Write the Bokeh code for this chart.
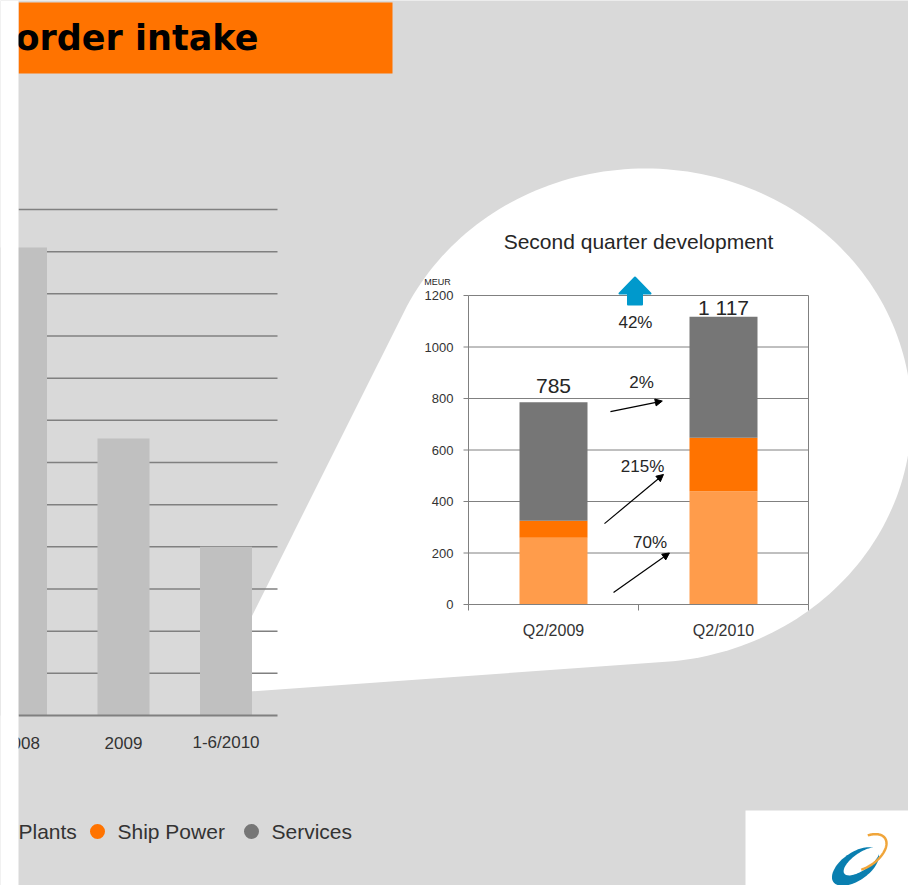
import numpy as np
from bokeh.plotting import figure
from bokeh.models import Range1d, ColumnDataSource, Arrow, NormalHead
from bokeh.core.properties import value
from bokeh.embed import file_html
from bokeh.resources import INLINE

# ---------------- data ----------------
overview_categories = ["2008", "2009", "1-6/2010"]
overview_values = [5550, 3285, 2000]
overview_gridlines = [500, 1000, 1500, 2000, 2500, 3000, 3500, 4000, 4500, 5000, 5500, 6000]

quarters = ["Q2/2009", "Q2/2010"]
power_plants = [259, 440]
ship_power = [66, 208]
services = [460, 469]
quarter_ticks = [0, 200, 400, 600, 800, 1000, 1200]
legend_labels = ["Plants", "Ship Power", "Services"]

# ---------------- styling / layout ----------------
BG = "#d9d9d9"
C_PP = "#ff9c4b"
C_SP = "#ff7300"
C_SV = "#767676"
C_BAR = "#c0c0c0"
C_GRID = "#808080"
TXT = "#262626"
FONT = value("Liberation Sans")

W, H = 908, 885
X0, X1, Y0, Y1 = 0, 908, 0, 885          # page-pixel extent of the canvas

p = figure(width=W, height=H, x_range=Range1d(X0, X1), y_range=Range1d(Y1, Y0),
           output_backend="svg", toolbar_location=None, tools="",
           x_axis_location=None, y_axis_location=None, min_border=0)
p.grid.visible = False
p.outline_line_color = None
p.background_fill_color = BG
p.border_fill_color = BG


def xr(origin, ppu):
    return Range1d((X0 - origin) / ppu, (X1 - origin) / ppu)


def yr(origin, ppu):
    return Range1d((origin - Y1) / ppu, (origin - Y0) / ppu)


# overview chart scale (left) and quarter chart scale (inset)
OV_X0, OV_XP, OV_Y0, OV_YP = 20.5, 102.5, 715, 42.17 / 500
Q_X0, Q_XP, Q_Y0, Q_YP = 468, 170, 604, 309 / 1200
p.extra_x_ranges = {"ov": xr(OV_X0, OV_XP), "q": xr(Q_X0, Q_XP)}
p.extra_y_ranges = {"ov": yr(OV_Y0, OV_YP), "q": yr(Q_Y0, Q_YP)}

# ---------------- white callout bubble ----------------
cx, cy, a, b = 645, 415, 266, 247
th = np.radians(np.linspace(204.9, 445.6, 160))
bx = list(cx + a * np.cos(th))
by = list(cy + b * np.sin(th))
bub_x = [240] + bx + [240]
bub_y = [311 + (403.7 - 240) * 2] + by + [661.3 + (665.4 - 240) * 0.0713]
p.patch(bub_x, bub_y, fill_color="white", line_color=None)

# ---------------- title box ----------------
p.quad(left=[18], right=[392], top=[2], bottom=[73], fill_color="#ff7300", line_color=None)
p.text(x=[15], y=[37], text=["order intake"], text_font=value("DejaVu Sans"),
       text_font_style="bold", text_font_size="35px", text_baseline="alphabetic",
       text_align="left", text_color="black")

# ---------------- overview chart ----------------
ov = dict(x_range_name="ov", y_range_name="ov")
gx0, gx1 = (18 - OV_X0) / OV_XP, (277 - OV_X0) / OV_XP
p.segment(x0=[gx0] * len(overview_gridlines), x1=[gx1] * len(overview_gridlines),
          y0=overview_gridlines, y1=overview_gridlines, line_color=C_GRID, line_width=1.5, **ov)
xs = list(range(len(overview_categories)))
p.vbar(x=xs, top=overview_values, bottom=0, width=52 / OV_XP, fill_color=C_BAR, line_color=None, **ov)
p.segment(x0=[gx0], x1=[gx1], y0=[0], y1=[0], line_color=C_GRID, line_width=2, **ov)
p.text(x=xs, y=[0] * len(xs), text=overview_categories, y_offset=27, text_align="center",
       text_baseline="middle", text_font=FONT, text_font_size="17px", text_color="#333333", **ov)

# ---------------- quarter chart (inset) ----------------
q = dict(x_range_name="q", y_range_name="q")
p.text(x=[1.0], y=[(Q_Y0 - 241) / Q_YP], text=["Second quarter development"], text_align="center",
       text_baseline="middle", text_font=FONT, text_font_size="21px", text_color=TXT, **q)
p.text(x=[0], y=[1200], text=["MEUR"], x_offset=-31, y_offset=-14, text_align="center",
       text_baseline="middle", text_font=FONT, text_font_size="9px", text_color=TXT, **q)

# gridlines
p.segment(x0=[0] * len(quarter_ticks), x1=[2] * len(quarter_ticks), y0=quarter_ticks, y1=quarter_ticks,
          line_color=C_GRID, line_width=1, **q)
# axes + frame
tick_dx = 5 / Q_XP
tick_dy = 6 / Q_YP
p.segment(x0=[0, 2], x1=[0, 2], y0=[0, 0], y1=[1200, 1200], line_color=C_GRID, line_width=1, **q)
p.segment(x0=[-tick_dx] * len(quarter_ticks), x1=[0] * len(quarter_ticks), y0=quarter_ticks,
          y1=quarter_ticks, line_color=C_GRID, line_width=1, **q)
p.segment(x0=[0, 1, 2], x1=[0, 1, 2], y0=[0, 0, 0], y1=[-tick_dy] * 3, line_color=C_GRID, line_width=1, **q)

# stacked bars
qx = [0.5, 1.5]
top_pp = power_plants
top_sp = [pp + sp for pp, sp in zip(power_plants, ship_power)]
top_sv = [t + s for t, s in zip(top_sp, services)]
p.vbar(x=qx, bottom=[0, 0], top=top_pp, width=0.4, fill_color=C_PP, line_color=None, **q)
p.vbar(x=qx, bottom=top_pp, top=top_sp, width=0.4, fill_color=C_SP, line_color=None, **q)
p.vbar(x=qx, bottom=top_sp, top=top_sv, width=0.4, fill_color=C_SV, line_color=None, **q)
p.segment(x0=[0], x1=[2], y0=[0], y1=[0], line_color=C_GRID, line_width=1, **q)

# axis labels
p.text(x=[0] * len(quarter_ticks), y=quarter_ticks, text=[str(t) for t in quarter_ticks], x_offset=-15,
       text_align="right", text_baseline="middle", text_font=FONT, text_font_size="13px",
       text_color="#333333", **q)
p.text(x=qx, y=[0, 0], text=quarters, y_offset=26, text_align="center", text_baseline="middle",
       text_font=FONT, text_font_size="16px", text_color="#333333", **q)

# totals
total_labels = [f"{t:,}".replace(",", " ") for t in top_sv]
p.text(x=qx, y=top_sv, text=total_labels, y_offset=[-16, -9], text_align="center",
       text_baseline="middle", text_font=FONT, text_font_size="21px", text_color=TXT, **q)


def pct(a0, a1):
    return f"{round((a1 / a0 - 1) * 100)}%"


change_text = [pct(top_sv[0], top_sv[1]), pct(services[0], services[1]),
               pct(ship_power[0], ship_power[1]), pct(power_plants[0], power_plants[1])]
change_x = [0.982, 1.018, 1.024, 1.068]
change_y = [1095, 862, 537, 242]
p.text(x=change_x, y=change_y, text=change_text, text_align="center", text_baseline="middle",
       text_font=FONT, text_font_size="17px", text_color=TXT, **q)

arrows = ColumnDataSource(dict(x0=[0.835, 0.800, 0.853], y0=[749, 314, 47],
                               x1=[1.140, 1.147, 1.182], y1=[790, 505, 200]))
p.add_layout(Arrow(source=arrows, x_start="x0", y_start="y0", x_end="x1", y_end="y1",
                   line_color="black", line_width=1.2,
                   end=NormalHead(size=7, fill_color="black", line_color="black"), **q))

# blue "up" arrow
ux = [627.5, 627.5, 619, 634.5, 650, 641.5, 641.5]
uy = [304, 293, 293, 277, 293, 293, 304]
p.patch(ux, uy, fill_color="#0099cc", line_color="#0099cc", line_width=2, line_join="round")

# ---------------- legend ----------------
p.text(x=[18, 117, 271], y=[831, 831, 831], text=legend_labels, text_align="left",
       text_baseline="middle", text_font=FONT, text_font_size="21px", text_color="#333333")
p.scatter(x=[97, 251], y=[831, 831], size=15, marker="circle", fill_color=[C_SP, C_SV], line_color=None)

# ---------------- white strip at the left edge ----------------
p.quad(left=[X0], right=[18], top=[Y0], bottom=[Y1], fill_color="white", line_color=None)

# ---------------- logo box ----------------
p.quad(left=[745], right=[X1], top=[810], bottom=[Y1], fill_color="white", line_color=None)


def ell(cx_, cy_, a_, b_, phi, t0=0, t1=360, n=80):
    t = np.radians(np.linspace(t0, t1, n))
    ph = np.radians(phi)
    lx, ly = a_ * np.cos(t), b_ * np.sin(t)
    return list(cx_ + lx * np.cos(ph) - ly * np.sin(ph)), list(cy_ + lx * np.sin(ph) + ly * np.cos(ph))


ex, ey = ell(855, 866, 27, 14, -35)
p.patch(ex, ey, fill_color="#0a7fb0", line_color=None)
ex, ey = ell(861, 861, 21, 8.5, -35)
p.patch(ex, ey, fill_color="white", line_color=None)
ex, ey = ell(864, 852, 25, 14, -35, -60, 120)
p.line(ex, ey, line_color="#f0a53a", line_width=2.5)

open("out.html", "w").write(file_html(p, INLINE))
